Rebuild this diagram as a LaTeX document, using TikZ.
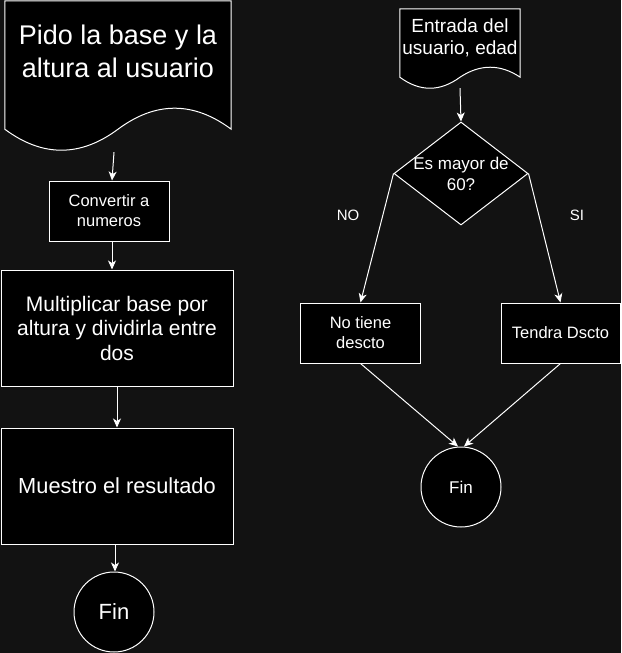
\documentclass[tikz,border=0pt]{standalone}
\usepackage{fontspec}
\setmainfont{Liberation Sans}
\usepackage{xcolor}
\usepackage{tikz}
\usetikzlibrary{arrows.meta}
\usetikzlibrary{shapes.geometric}
\usetikzlibrary{backgrounds}

\definecolor{fondo}{HTML}{121212}

\tikzset{
	caja/.style={draw=white,fill=black,text=white,line width=1pt,inner sep=0pt,align=center},
	doc/.style={text=white,inner sep=0pt,align=center},
	contorno/.style={draw=white,fill=black,line width=1pt},
	rombo/.style={diamond,draw=white,fill=black,line width=1pt,inner sep=0pt,minimum width=134pt,minimum height=103pt},
	rombotexto/.style={text=white,align=center,font=\fontsize{17}{21}\selectfont},
	fin/.style={circle,draw=white,fill=black,text=white,line width=1pt,inner sep=0pt,minimum size=80pt},
	rotulo/.style={text=white,inner sep=0pt,font=\fontsize{15}{18}\selectfont},
	flujo/.style={draw=white,line width=1pt,-{Stealth[length=9pt,width=8pt,inset=2.5pt]}}
}

\begin{document}
\begin{tikzpicture}[x=1pt,y=1pt]
	\useasboundingbox (0,0) rectangle (621,-653);
		% columna izquierda
		\node[doc,font=\fontsize{27}{33}\selectfont,minimum width=226pt,minimum height=108pt] (L0) at (118,-55) {Pido la base y la\\altura al usuario\rule[-6.7pt]{0pt}{0pt}};
		\node[caja,font=\fontsize{16.5}{20}\selectfont,minimum width=120pt,minimum height=60pt] (L1) at (109,-211) {Convertir a\\numeros};
		\node[caja,font=\fontsize{21}{24.5}\selectfont,minimum width=232pt,minimum height=116pt] (L2) at (117,-328) {Multiplicar base por\\altura y dividirla entre\\dos};
		\node[caja,font=\fontsize{21.8}{25}\selectfont,minimum width=232pt,minimum height=116pt] (L3) at (117,-486) {Muestro el resultado};
		\node[fin,font=\fontsize{22}{26}\selectfont] (L4) at (114,-612) {Fin};
		\draw[flujo] ([shift={(-4pt,-43pt)}]L0.south) to ([xshift=3pt]L1.north);
		\draw[flujo] ([xshift=3pt]L1.south) to ([xshift=-5pt]L2.north);
		\draw[flujo] (L2) to (L3);
		\draw[flujo] ([xshift=-2pt]L3.south) to ([xshift=1pt]L4.north);
		% columna derecha
		\node[doc,font=\fontsize{19}{22}\selectfont,minimum width=120pt,minimum height=58pt] (R0) at (460,-38) {Entrada del\\usuario, edad};
		\node[rombo,label={[rombotexto]center:Es mayor de\\60?}] (R1) at (461,-173.5) {};
		\node[caja,font=\fontsize{16.5}{20}\selectfont,minimum width=120pt,minimum height=60pt] (R2) at (360.5,-333) {No tiene\\descto};
		\node[caja,font=\fontsize{16.5}{20}\selectfont,minimum width=119pt,minimum height=60pt] (R3) at (560.5,-333) {Tendra Dscto};
		\node[fin,font=\fontsize{17}{20}\selectfont] (R4) at (461,-487) {Fin};
		\node[rotulo] (RN) at (348,-215) {NO};
		\node[rotulo] (RS) at (577,-215) {SI};
		\draw[flujo] ([yshift=-21pt]R0.south) to (R1.north);
		\draw[flujo] (R1.west) to (R2.north);
		\draw[flujo] (R1.east) to (R3.north);
		\draw[flujo] (R2.south) to ([xshift=-3pt]R4.north);
		\draw[flujo] (R3.south) to ([xshift=3pt]R4.north);
		% fondo y documentos
		\begin{scope}[on background layer]
		\fill[fondo] (0,0) rectangle (621,-653);
		\draw[contorno] (L0.north west) -- (L0.north east) -- ([yshift=-20pt]L0.south east)
			.. controls +(-37.7,28) and +(37.7,28) .. ([yshift=-20pt]L0.south)
			.. controls +(-37.7,-28) and +(37.7,-28) .. ([yshift=-20pt]L0.south west) -- cycle;
		\draw[contorno] (R0.north west) -- (R0.north east) -- ([yshift=-10pt]R0.south east)
			.. controls +(-20,13.3) and +(20,13.3) .. ([yshift=-10pt]R0.south)
			.. controls +(-20,-14.7) and +(20,-14.7) .. ([yshift=-10pt]R0.south west) -- cycle;
		\end{scope}
\end{tikzpicture}
\end{document}
